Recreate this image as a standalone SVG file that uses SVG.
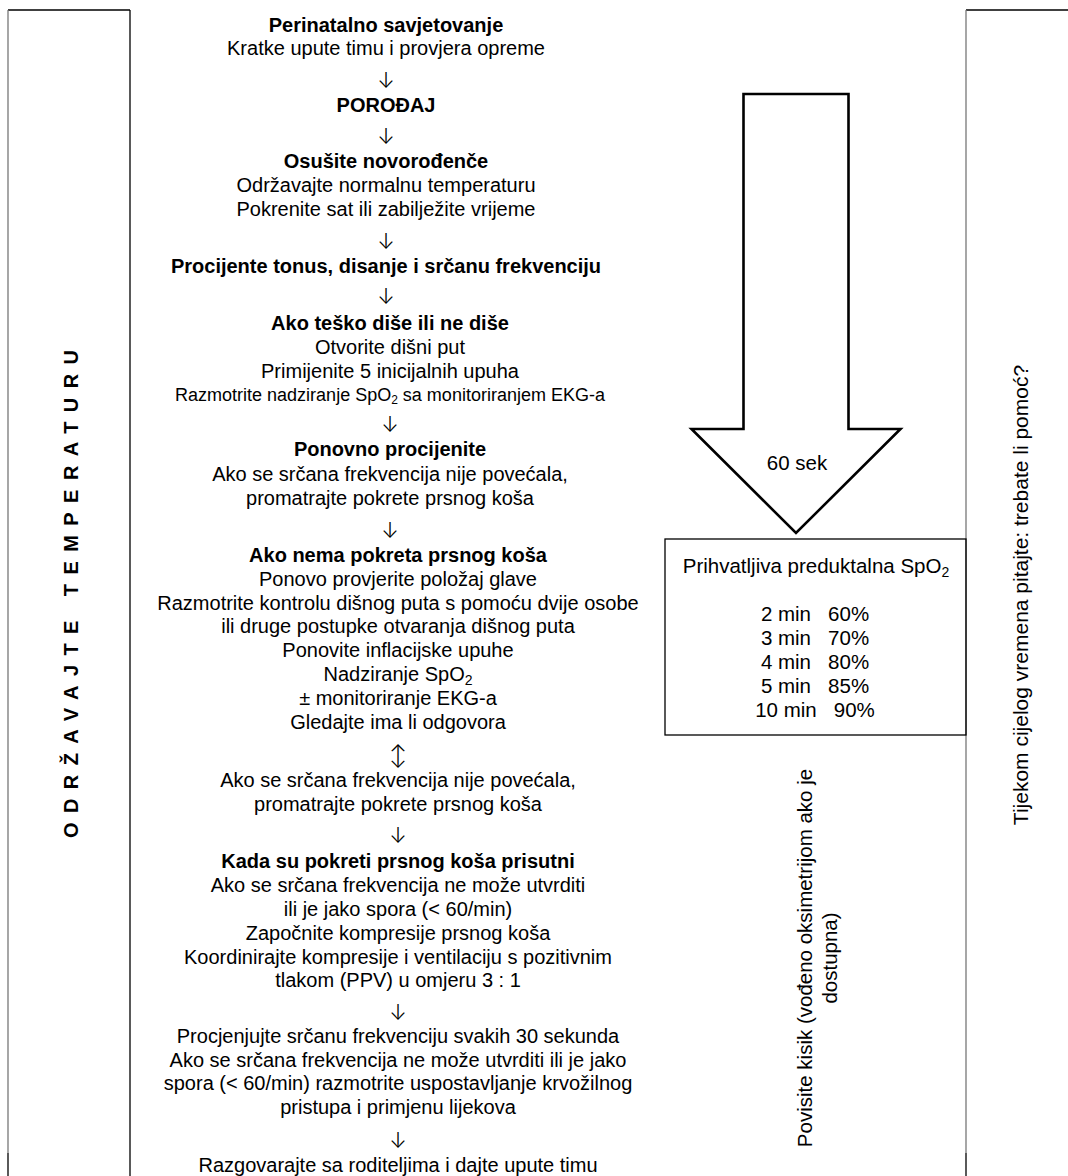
<svg xmlns="http://www.w3.org/2000/svg" width="1068" height="1176" viewBox="0 0 1068 1176">
<style>
text{font-family:"Liberation Sans",Arial,sans-serif;fill:#000}
.t{font-size:20px;text-anchor:middle}
.b{font-weight:bold}
.s{font-size:18px}
.c{font-family:Inter,"Noto Sans CJK JP",sans-serif;font-size:21px;font-weight:300;text-anchor:middle}
.ln{stroke:#000;stroke-width:1.3;fill:none}
.lg{stroke:#777;stroke-width:1.3;fill:none}
</style>
<rect width="1068" height="1176" fill="#fff"/>

<g id="left-panel">
<line class="ln" x1="8" y1="10" x2="130" y2="10"/>
<line class="lg" x1="8" y1="10" x2="8" y2="1153"/>
<line class="ln" x1="8" y1="1153" x2="8" y2="1176"/>
<line class="ln" x1="130" y1="10" x2="130" y2="1176"/>
<text class="b" font-size="20" transform="translate(78,838) rotate(-90)" textLength="488" lengthAdjust="spacing">ODRŽAVAJTE TEMPERATURU</text>
</g>

<g id="right-panel">
<line class="ln" x1="966" y1="10" x2="1068" y2="10"/>
<line class="lg" x1="966" y1="10" x2="966" y2="1153"/>
<line class="ln" x1="966" y1="1153" x2="966" y2="1176"/>
<text class="t" style="font-size:21px" transform="translate(1028,595) rotate(-90)">Tijekom cijelog vremena pitajte: trebate li pomoć?</text>
</g>

<g id="timer-arrow">
<polygon points="743.5,94 848.5,94 848.5,429 900.5,429 796,533 691.5,429 743.5,429" fill="#fff" stroke="#000" stroke-width="2.6" stroke-linejoin="miter"/>
<text class="t" style="font-size:20.5px" x="797" y="470">60 sek</text>
</g>

<g id="spo2-box">
<rect class="ln" x="665" y="539" width="301" height="196"/>
<text class="t" style="font-size:20.5px" x="816" y="573">Prihvatljiva preduktalna SpO<tspan font-size="14" dy="4">2</tspan></text>
<text class="t" style="font-size:20.5px" x="815" y="621" xml:space="preserve">2 min   60%</text>
<text class="t" style="font-size:20.5px" x="815" y="645" xml:space="preserve">3 min   70%</text>
<text class="t" style="font-size:20.5px" x="815" y="669" xml:space="preserve">4 min   80%</text>
<text class="t" style="font-size:20.5px" x="815" y="693" xml:space="preserve">5 min   85%</text>
<text class="t" style="font-size:20.5px" x="815" y="717" xml:space="preserve">10 min   90%</text>
</g>

<g id="oxygen-note">
<text class="t" style="font-size:20.5px" transform="translate(812,958) rotate(-90)">Povisite kisik (vođeno oksimetrijom ako je</text>
<text class="t" style="font-size:20.5px" transform="translate(837,958) rotate(-90)">dostupna)</text>
</g>

<g id="n1">
<text class="t b" x="386" y="32">Perinatalno savjetovanje</text>
<text class="t" x="386" y="55">Kratke upute timu i provjera opreme</text>
</g>
<g id="n2">
<text class="t b" x="386" y="112">POROĐAJ</text>
</g>
<g id="n3">
<text class="t b" x="386" y="168">Osušite novorođenče</text>
<text class="t" x="386" y="192">Održavajte normalnu temperaturu</text>
<text class="t" x="386" y="216">Pokrenite sat ili zabilježite vrijeme</text>
</g>
<g id="n4">
<text class="t b" x="386" y="273">Procijente tonus, disanje i srčanu frekvenciju</text>
</g>
<g id="n5">
<text class="t b" x="390" y="330">Ako teško diše ili ne diše</text>
<text class="t" x="390" y="354">Otvorite dišni put</text>
<text class="t" x="390" y="378">Primijenite 5 inicijalnih upuha</text>
<text class="t s" x="390" y="401">Razmotrite nadziranje SpO<tspan font-size="12" dy="3">2</tspan><tspan dy="-3"> sa monitoriranjem EKG-a</tspan></text>
</g>
<g id="n6">
<text class="t b" x="390" y="456">Ponovno procijenite</text>
<text class="t" x="390" y="481">Ako se srčana frekvencija nije povećala,</text>
<text class="t" x="390" y="505">promatrajte pokrete prsnog koša</text>
</g>
<g id="n7">
<text class="t b" x="398" y="562">Ako nema pokreta prsnog koša</text>
<text class="t" x="398" y="586">Ponovo provjerite položaj glave</text>
<text class="t" x="398" y="610">Razmotrite kontrolu dišnog puta s pomoću dvije osobe</text>
<text class="t" x="398" y="633">ili druge postupke otvaranja dišnog puta</text>
<text class="t" x="398" y="657">Ponovite inflacijske upuhe</text>
<text class="t" x="398" y="681">Nadziranje SpO<tspan font-size="14" dy="4">2</tspan></text>
<text class="t" x="398" y="705">± monitoriranje EKG-a</text>
<text class="t" x="398" y="729">Gledajte ima li odgovora</text>
</g>
<g id="n8">
<text class="t" x="398" y="787">Ako se srčana frekvencija nije povećala,</text>
<text class="t" x="398" y="811">promatrajte pokrete prsnog koša</text>
</g>
<g id="n9">
<text class="t b" x="398" y="868">Kada su pokreti prsnog koša prisutni</text>
<text class="t" x="398" y="892">Ako se srčana frekvencija ne može utvrditi</text>
<text class="t" x="398" y="916">ili je jako spora (&lt; 60/min)</text>
<text class="t" x="398" y="940">Započnite kompresije prsnog koša</text>
<text class="t" x="398" y="964">Koordinirajte kompresije i ventilaciju s pozitivnim</text>
<text class="t" x="398" y="987">tlakom (PPV) u omjeru 3 : 1</text>
</g>
<g id="n10">
<text class="t" x="398" y="1043">Procjenjujte srčanu frekvenciju svakih 30 sekunda</text>
<text class="t" x="398" y="1067">Ako se srčana frekvencija ne može utvrditi ili je jako</text>
<text class="t" x="398" y="1090">spora (&lt; 60/min) razmotrite uspostavljanje krvožilnog</text>
<text class="t" x="398" y="1114">pristupa i primjenu lijekova</text>
</g>
<g id="n11">
<text class="t" x="398" y="1172">Razgovarajte sa roditeljima i dajte upute timu</text>
</g>

<g id="connectors">
<text class="c" x="386" y="88">↓</text>
<text class="c" x="386" y="144">↓</text>
<text class="c" x="386" y="249">↓</text>
<text class="c" x="386" y="304">↓</text>
<text class="c" x="390" y="432">↓</text>
<text class="c" x="390" y="538">↓</text>
<text class="c" x="398" y="763">↕</text>
<text class="c" x="398" y="843">↓</text>
<text class="c" x="398" y="1020">↓</text>
<text class="c" x="398" y="1148">↓</text>
</g>
</svg>
